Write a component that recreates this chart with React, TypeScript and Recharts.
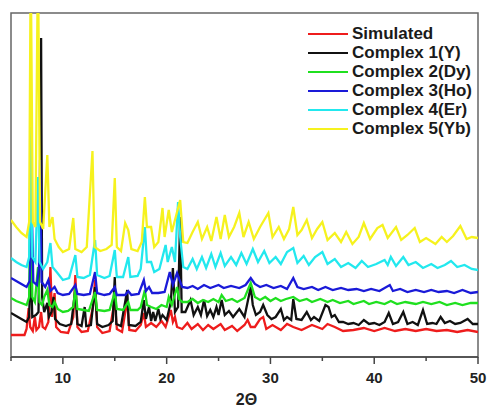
import { LineChart, Line, XAxis, YAxis, ReferenceArea } from "recharts";

type Pt = [number, number];

// intensity (arbitrary units, stacked with offsets)
const simulated: Pt[] = [
  [5, 22], [6.3, 22], [6.5, 28], [6.7, 49], [6.85, 30], [7.1, 26], [7.3, 40], [7.45, 27], [7.7, 30], [7.9, 45],
  [8.05, 30], [8.3, 28], [8.6, 35], [8.8, 90], [8.95, 40], [9.2, 64], [9.35, 30], [9.8, 25], [10.5, 24], [11.0, 40],
  [11.2, 82], [11.4, 30], [11.8, 25], [12.4, 26], [12.9, 50], [13.1, 77], [13.3, 30], [13.8, 24], [14.5, 26], [15.0, 57],
  [15.2, 28], [15.7, 25], [16.2, 57], [16.4, 27], [17.0, 26], [17.5, 32], [17.8, 44], [18.0, 30], [18.5, 34], [19.0, 30],
  [19.5, 36], [19.9, 30], [20.4, 47], [20.6, 35], [20.8, 40], [21.0, 30], [21.5, 28], [22, 34], [22.4, 28], [23, 33],
  [23.5, 27], [24, 32], [24.5, 28], [25.2, 33], [25.6, 27], [26.3, 31], [26.8, 26], [27.5, 32], [27.8, 37], [28.1, 30],
  [28.5, 30], [29.0, 38], [29.3, 40], [29.6, 28], [30.2, 32], [31, 27], [31.6, 33], [32.2, 30], [33, 27], [34, 32],
  [35, 28], [35.5, 33], [36.2, 30], [37, 26], [38, 27], [39, 29], [40, 26], [41, 29], [42, 26], [43, 28],
  [44, 26], [45, 28], [46, 26], [47, 27], [48, 25], [49, 27], [50, 25],
];

const complex1: Pt[] = [
  [5, 44], [5.5, 41], [6, 38], [6.5, 35], [6.75, 40], [6.9, 100], [7.05, 40], [7.4, 42], [7.65, 45], [7.8, 160],
  [7.9, 319], [8.0, 60], [8.2, 45], [8.5, 54], [8.65, 40], [8.9, 45], [9.1, 60], [9.25, 38], [9.7, 33], [10.3, 31],
  [10.8, 33], [11.2, 67], [11.4, 33], [11.8, 31], [12.1, 50], [12.25, 31], [12.7, 32], [13.1, 70], [13.3, 33], [13.8, 30],
  [14.4, 32], [14.8, 36], [15.0, 80], [15.15, 33], [15.6, 31], [16.2, 67], [16.35, 32], [17.0, 31], [17.5, 35], [17.8, 57],
  [18.0, 38], [18.3, 50], [18.5, 36], [18.7, 45], [18.9, 36], [19.2, 48], [19.4, 38], [19.6, 42], [20.0, 37], [20.4, 55],
  [20.6, 89], [20.8, 45], [21.1, 50], [21.3, 140], [21.45, 45], [21.8, 45], [22.3, 57], [22.6, 42], [23.0, 50], [23.3, 42],
  [23.6, 57], [23.9, 41], [24.2, 47], [24.5, 40], [24.8, 50], [25.0, 42], [25.3, 57], [25.6, 42], [26, 46], [26.4, 40],
  [27, 48], [27.5, 40], [28.1, 70], [28.3, 52], [28.6, 42], [29.0, 45], [29.3, 52], [29.7, 42], [30.1, 38], [30.5, 40],
  [31, 48], [31.3, 37], [31.6, 40], [32.0, 37], [32.2, 58], [32.5, 38], [33, 37], [33.5, 45], [33.9, 37], [34.2, 40],
  [34.7, 36], [35.3, 52], [35.6, 50], [35.9, 40], [36.2, 42], [36.6, 35], [37, 35], [37.5, 33], [38, 34], [38.5, 32],
  [39, 37], [39.5, 33], [40, 34], [40.5, 32], [41, 35], [41.4, 44], [41.8, 33], [42.3, 35], [42.8, 45], [43.2, 33],
  [43.7, 35], [44.2, 32], [44.7, 47], [45.1, 33], [45.6, 34], [46, 33], [46.4, 40], [46.8, 34], [47.3, 36], [47.8, 33],
  [48.3, 34], [49, 38], [49.5, 33], [50, 33],
];

const complex2: Pt[] = [
  [5, 59], [5.5, 56], [6, 54], [6.5, 52], [6.75, 60], [6.9, 200], [7.05, 60], [7.3, 55], [7.6, 90], [7.75, 55],
  [8.0, 52], [8.2, 60], [8.5, 67], [8.7, 52], [9.0, 50], [9.2, 55], [9.5, 48], [10, 45], [10.5, 46], [11.0, 50],
  [11.2, 70], [11.4, 48], [12, 47], [12.5, 46], [13.1, 65], [13.3, 47], [14, 46], [14.5, 47], [15.0, 65], [15.2, 48],
  [15.8, 47], [16.3, 55], [16.5, 47], [17.2, 47], [17.5, 50], [17.9, 67], [18.1, 52], [18.5, 50], [19, 48], [19.5, 52],
  [20.0, 50], [20.2, 60], [20.5, 52], [21.0, 70], [21.2, 58], [21.5, 55], [22, 55], [22.5, 58], [23, 54], [23.5, 57],
  [24, 55], [24.5, 58], [25, 55], [25.3, 62], [25.7, 56], [26.3, 58], [26.8, 55], [27.5, 59], [28.1, 74], [28.5, 60],
  [29, 57], [29.5, 60], [30, 56], [30.5, 59], [31, 56], [31.5, 58], [32.2, 60], [32.8, 56], [33.5, 58], [34, 55],
  [34.8, 58], [35.5, 55], [36, 57], [36.7, 54], [37.5, 56], [38, 53], [39, 56], [39.5, 53], [40.2, 55], [41, 53],
  [41.6, 56], [42.2, 53], [43, 55], [44, 53], [44.7, 55], [45.5, 53], [46.3, 55], [47, 52], [47.8, 54], [48.5, 52],
  [49.3, 54], [50, 54],
];

const complex3: Pt[] = [
  [5, 79], [5.5, 76], [6, 73], [6.5, 70], [6.8, 76], [7.0, 150], [7.15, 75], [7.5, 72], [7.7, 90], [7.8, 197],
  [7.95, 75], [8.3, 70], [8.6, 77], [8.8, 66], [9.2, 70], [9.5, 64], [10, 62], [10.6, 63], [11.2, 72], [11.4, 63],
  [12, 62], [12.6, 63], [13.1, 85], [13.3, 64], [14, 62], [14.5, 63], [15.0, 70], [15.2, 62], [16, 62], [16.3, 66],
  [16.6, 62], [17.3, 63], [17.8, 77], [18.0, 66], [18.3, 70], [18.6, 64], [19.2, 64], [19.8, 65], [20.3, 85], [20.6, 72],
  [21.0, 84], [21.2, 78], [21.5, 70], [22, 69], [22.5, 71], [23, 68], [23.6, 72], [24.2, 69], [25, 72], [25.5, 69],
  [26.2, 71], [27, 69], [27.6, 72], [28.1, 79], [28.5, 73], [29, 70], [29.6, 72], [30.3, 69], [31, 71], [31.6, 68],
  [32.2, 79], [32.6, 70], [33.2, 68], [34, 70], [34.6, 67], [35.3, 70], [36, 67], [36.8, 69], [37.5, 67], [38.3, 68],
  [39, 66], [39.7, 68], [40.5, 66], [41.5, 72], [41.8, 66], [42.5, 68], [43.2, 65], [44, 67], [44.8, 65], [45.5, 67],
  [46.2, 65], [47, 66], [47.7, 64], [48.5, 67], [49.3, 64], [50, 65],
];

const complex4: Pt[] = [
  [5, 99], [5.5, 95], [6, 92], [6.5, 90], [6.75, 100], [6.9, 230], [7.05, 100], [7.35, 95], [7.6, 180], [7.75, 95],
  [8.1, 88], [8.5, 95], [8.8, 114], [9.0, 90], [9.4, 85], [10, 77], [10.6, 79], [11.2, 102], [11.4, 80], [12, 79],
  [12.6, 82], [13.1, 117], [13.3, 82], [14, 79], [14.5, 81], [15.0, 107], [15.2, 80], [15.8, 80], [16.3, 100], [16.5, 80],
  [17.2, 81], [17.5, 88], [17.9, 130], [18.1, 95], [18.5, 95], [18.8, 85], [19.3, 88], [19.9, 112], [20.1, 95], [20.5, 110],
  [20.8, 95], [21.1, 155], [21.3, 120], [21.6, 90], [22, 88], [22.5, 98], [22.9, 88], [23.4, 100], [23.8, 89], [24.3, 103],
  [24.7, 90], [25.2, 104], [25.6, 91], [26.2, 100], [26.7, 92], [27.2, 104], [27.7, 93], [28.3, 108], [28.8, 95], [29.4, 106],
  [29.9, 94], [30.5, 100], [31, 93], [31.6, 105], [32.2, 109], [32.6, 94], [33.2, 101], [33.7, 92], [34.3, 100], [35, 105],
  [35.5, 93], [36.2, 98], [36.8, 90], [37.5, 94], [38.2, 89], [38.8, 96], [39.4, 90], [40.2, 93], [41, 97], [41.3, 92],
  [41.6, 100], [42.1, 91], [42.8, 100], [43.3, 92], [44, 95], [44.7, 89], [45.5, 93], [46.1, 89], [46.8, 92], [47.4, 96],
  [48, 90], [48.7, 92], [49.4, 88], [50, 87],
];

const complex5: Pt[] = [
  [5, 137], [5.5, 130], [6, 124], [6.5, 120], [6.75, 135], [6.9, 400], [7.1, 135], [7.35, 130], [7.6, 400], [7.8, 135],
  [8.1, 128], [8.5, 202], [8.7, 130], [9.0, 140], [9.2, 118], [9.6, 110], [10, 105], [10.6, 108], [11.0, 139], [11.2, 108],
  [11.8, 105], [12.3, 110], [12.85, 206], [13.05, 110], [13.6, 106], [14.2, 108], [14.7, 112], [15.0, 179], [15.2, 110], [15.6, 106],
  [16.0, 134], [16.3, 127], [16.6, 108], [17.2, 106], [17.6, 115], [17.9, 160], [18.1, 130], [18.5, 130], [18.8, 110], [19.2, 115],
  [19.6, 149], [19.8, 120], [20.2, 147], [20.5, 125], [21.0, 145], [21.3, 157], [21.6, 115], [22.0, 114], [22.5, 125], [23, 135],
  [23.4, 118], [23.9, 130], [24.3, 116], [24.8, 140], [25.2, 118], [25.6, 142], [26.0, 120], [26.5, 130], [27, 144], [27.4, 120],
  [27.9, 135], [28.4, 118], [29.0, 130], [29.8, 144], [30.2, 120], [30.8, 130], [31.3, 118], [31.8, 128], [32.2, 150], [32.6, 122],
  [33.0, 127], [33.5, 137], [34.0, 119], [34.5, 128], [35.0, 135], [35.5, 117], [36.2, 124], [36.8, 115], [37.3, 125], [37.9, 113],
  [38.5, 120], [39.0, 134], [39.6, 118], [40.3, 129], [40.8, 132], [41.3, 119], [42.1, 130], [42.6, 117], [43.2, 122], [43.9, 129],
  [44.4, 115], [45, 119], [45.9, 113], [46.5, 120], [47.0, 115], [47.6, 121], [48.3, 131], [48.9, 118], [49.4, 120], [50, 119],
];

const xTicks = [5, 10, 15, 20, 25, 30, 35, 40, 45, 50];
const xMajor = [10, 20, 30, 40, 50];

const seriesNames = ["Simulated", "Complex 1(Y)", "Complex 2(Dy)", "Complex 3(Ho)", "Complex 4(Er)", "Complex 5(Yb)"];
const seriesData = [simulated, complex1, complex2, complex3, complex4, complex5];
const seriesColors = ["#ee1c1c", "#111111", "#1fe01f", "#1a1ad8", "#22e8ee", "#f6f21e"];

const font = "'Liberation Sans', Arial, sans-serif";
const TICK_SIZE = 7;
const TICK_MARGIN = 8;

// major ticks get a label and a longer mark, minor ones just a short mark
function XTick(props: any) {
  const { x, y, payload } = props;
  const axisY = y - TICK_SIZE - TICK_MARGIN;
  const major = xMajor.includes(payload.value);
  return (
    <g>
      <line x1={x} x2={x} y1={axisY} y2={axisY + (major ? 7 : 4)} stroke="#444" strokeWidth={1.5} />
      {major && (
        <text x={x} y={y} dy="0.71em" textAnchor="middle" fill="#222" fontSize={15} fontWeight={700} fontFamily={font}>
          {payload.value}
        </text>
      )}
    </g>
  );
}

export default function App() {
  return (
    <div style={{ position: "absolute", left: 0, top: 0, width: 487, height: 407, background: "#fff" }}>
      <LineChart width={487} height={407} margin={{ top: 13, right: 9, left: 11, bottom: 5 }}>
        <XAxis
          type="number"
          dataKey="x"
          domain={[5, 50]}
          ticks={xTicks}
          allowDataOverflow
          height={45}
          tickSize={TICK_SIZE}
          tickMargin={TICK_MARGIN}
          tick={<XTick />}
          tickLine={false}
          axisLine={{ stroke: "#444", strokeWidth: 1.5 }}
          label={{
            value: "2Θ",
            position: "insideBottom",
            offset: -3,
            dx: 2,
            style: { fill: "#222", fontSize: 16, fontWeight: 700, fontFamily: font },
          }}
        />
        <YAxis type="number" domain={[0, 344]} allowDataOverflow hide />
        <ReferenceArea x1={5} x2={50} y1={0} y2={344} fill="none" stroke="#666" strokeWidth={1.5} />
        {seriesData.map((d, i) => (
          <Line
            key={seriesNames[i]}
            data={d.map(([x, y]) => ({ x, y }))}
            dataKey="y"
            name={seriesNames[i]}
            type="linear"
            stroke={seriesColors[i]}
            strokeWidth={2.3}
            dot={false}
            isAnimationActive={false}
          />
        ))}
      </LineChart>
      <div style={{ position: "absolute", left: 308, top: 24, fontFamily: font }}>
        {seriesNames.map((n, i) => (
          <div key={n} style={{ display: "flex", alignItems: "center", height: 19 }}>
            <div style={{ width: 40, height: 2, background: seriesColors[i], marginRight: 4 }} />
            <span style={{ fontSize: 17, fontWeight: 700, color: "#1a1a1a", lineHeight: "19px" }}>{n}</span>
          </div>
        ))}
      </div>
    </div>
  );
}
